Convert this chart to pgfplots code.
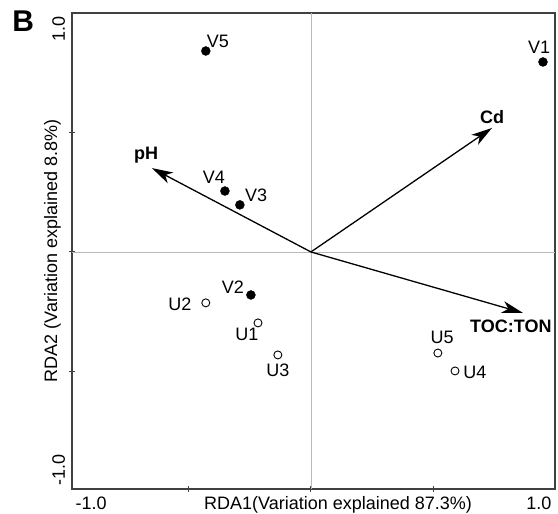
\documentclass[border=0pt]{standalone}
\usepackage{fontspec}
\setmainfont{Liberation Sans}
\usepackage{pgfplots}
\pgfplotsset{compat=1.18}
\usepackage{pgfplotstable}
\usetikzlibrary{arrows.meta}

\newcommand\lbl{\fontsize{18}{21}\selectfont}

% sample scores
\pgfplotstableread{
x y name
 0.947  0.795 V1
-0.245 -0.180 V2
-0.290  0.197 V3
-0.351  0.255 V4
-0.429  0.841 V5
}\vsites
\pgfplotstableread{
x y name
-0.216 -0.297 U1
-0.429 -0.213 U2
-0.135 -0.431 U3
 0.588 -0.498 U4
 0.518 -0.423 U5
}\usites
% label positions
\pgfplotstableread{
x y name
 0.931  0.858 V1
-0.318 -0.146 V2
-0.224  0.238 V3
-0.396  0.314 V4
-0.380  0.883 V5
-0.261 -0.347 U1
-0.535 -0.218 U2
-0.135 -0.494 U3
 0.669 -0.502 U4
 0.535 -0.356 U5
}\sitelabels
\pgfplotstableread{
x y name
-0.673  0.406 pH
 0.739  0.565 Cd
 0.816 -0.310 TOC:TON
}\envlabels

\begin{document}
\begin{tikzpicture}
\begin{axis}[
    scale only axis,
    width=483pt, height=476pt,
    xmin=-0.975, xmax=0.996,
    ymin=-0.992, ymax=1.0,
    axis line style={draw=black!75, line width=1.2pt},
    tick pos=left, tick align=center,
    major tick length=6pt,
    tick style={black!75, line width=1pt},
    xtick={-0.5,0,0.5}, ytick={-0.5,0,0.5},
    xticklabels={}, yticklabels={},
    clip=false,
    xlabel={RDA1(Variation explained 87.3\%)},
    ylabel={RDA2 (Variation explained 8.8\%)},
    every axis x label/.style={at={(axis description cs:0.551,-0.044)}, anchor=base, font=\lbl},
    every axis y label/.style={at={(axis description cs:-0.031,0.5)}, anchor=base, rotate=90, font=\lbl},
    ]
% zero lines
\addplot[gray!55, line width=0.8pt] coordinates {(0,-0.992) (0,1)};
\addplot[gray!55, line width=0.8pt] coordinates {(-0.975,0) (0.996,0)};

% environmental arrows
\addplot[line width=1.3pt, -{Stealth[length=21pt,width=12pt,inset=6pt]}] coordinates {(0,0) (-0.649,0.351)};
\addplot[line width=1.3pt, -{Stealth[length=21pt,width=12pt,inset=6pt]}] coordinates {(0,0) (0.739,0.519)};
\addplot[line width=1.3pt, -{Stealth[length=21pt,width=12pt,inset=6pt]}] coordinates {(0,0) (0.865,-0.255)};

% sites
\addplot[only marks, mark=*, mark size=4.5pt, black] table[x=x,y=y] {\vsites};
\addplot[only marks, mark=o, mark size=4pt, black, mark options={line width=0.9pt, fill=white}] table[x=x,y=y] {\usites};

% labels
\addplot[only marks, mark=none, nodes near coords, point meta=explicit symbolic,
    every node near coord/.append style={anchor=center, inner sep=0pt, font=\lbl}]
    table[x=x,y=y,meta=name] {\sitelabels};
\addplot[only marks, mark=none, nodes near coords, point meta=explicit symbolic,
    every node near coord/.append style={anchor=center, inner sep=0pt, font=\lbl\bfseries}]
    table[x=x,y=y,meta=name] {\envlabels};

% end tick labels
\node[anchor=base west, font=\lbl] at (axis description cs:0,-0.044) {-1.0};
\node[anchor=base east, font=\lbl] at (axis description cs:1,-0.044) {1.0};
\node[rotate=90, anchor=base east, font=\lbl] at (axis description cs:-0.0145,1) {1.0};
\node[rotate=90, anchor=base west, font=\lbl] at (axis description cs:-0.0145,0) {-1.0};

\node[font=\fontsize{30}{32}\selectfont\bfseries] at (axis description cs:-0.101,0.983) {B};
\end{axis}
\pgfresetboundingbox
\path[use as bounding box] ([shift={(-72pt,-25pt)}]current axis.south west) rectangle ([shift={(486pt,489pt)}]current axis.south west);
\end{tikzpicture}
\end{document}
